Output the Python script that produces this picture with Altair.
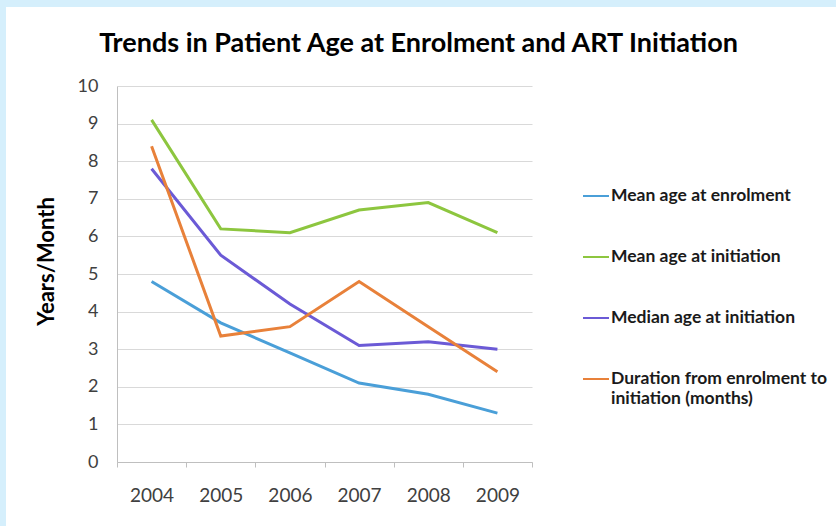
import altair as alt
import pandas as pd

# Years on the category axis
years = ["2004", "2005", "2006", "2007", "2008", "2009"]

# Series names, in legend order
series_names = [
    "Mean age at enrolment",
    "Mean age at initiation",
    "Median age at initiation",
    "Duration from enrolment to initiation (months)",
]

# Values per year (years for ages, months for duration)
mean_age_enrolment = [4.8, 3.7, 2.9, 2.1, 1.8, 1.3]
mean_age_initiation = [9.1, 6.2, 6.1, 6.7, 6.9, 6.1]
median_age_initiation = [7.8, 5.5, 4.2, 3.1, 3.2, 3.0]
duration_months = [8.4, 3.35, 3.6, 4.8, 3.6, 2.4]

series_colors = ["#4A9FD8", "#8DC63F", "#6B5AD6", "#E8813A"]

FONT = "Lato"
EDGE = "#D5EFFC"

rows = []
for name, values in zip(
    series_names,
    [mean_age_enrolment, mean_age_initiation, median_age_initiation, duration_months],
):
    for year, v in zip(years, values):
        rows.append({"Year": year, "Series": name, "Value": v})
df = pd.DataFrame(rows)

# Light-blue page edge along the top and left sides
one = pd.DataFrame({"k": [0]})
top_edge = alt.Chart(one).mark_rect(color=EDGE).encode(
    x=alt.value(-117), x2=alt.value(719), y=alt.value(-86), y2=alt.value(-79)
)
left_edge = alt.Chart(one).mark_rect(color=EDGE).encode(
    x=alt.value(-117), x2=alt.value(-111), y=alt.value(-86), y2=alt.value(440)
)

lines = alt.Chart(df).mark_line(strokeWidth=3).encode(
    x=alt.X(
        "Year:N",
        sort=years,
        title=None,
        scale=alt.Scale(paddingInner=0, paddingOuter=0),
        axis=alt.Axis(
            labelAngle=0,
            labelFont=FONT,
            labelFontSize=19,
            labelColor="#404040",
            labelPadding=19,
            tickBand="extent",
            tickSize=5,
            tickColor="#BFBFBF",
            domainColor="#BFBFBF",
            grid=False,
        ),
    ),
    y=alt.Y(
        "Value:Q",
        title="Years/Month",
        scale=alt.Scale(domain=[0, 10], nice=False),
        axis=alt.Axis(
            values=list(range(0, 11)),
            labelFont=FONT,
            labelFontSize=18,
            labelColor="#404040",
            labelPadding=19,
            ticks=False,
            domainColor="#BFBFBF",
            gridColor="#D9D9D9",
            titleFont=FONT,
            titleFontSize=22,
            titleFontWeight="bold",
            titleColor="#000000",
            titleX=-71,
            titleY=175,
            titleBaseline="middle",
        ),
    ),
    color=alt.Color(
        "Series:N",
        sort=series_names,
        scale=alt.Scale(domain=series_names, range=series_colors),
        legend=alt.Legend(
            title=None,
            orient="none",
            legendX=465,
            legendY=96,
            symbolType="stroke",
            symbolSize=676,
            symbolStrokeWidth=2,
            labelFont=FONT,
            labelFontSize=17.5,
            labelFontWeight="bold",
            labelColor="#1A1A1A",
            labelOffset=1,
            labelLimit=300,
            rowPadding=38,
            labelExpr="datum.label == 'Duration from enrolment to initiation (months)' ? ['Duration from enrolment to', 'initiation (months)'] : datum.label",
        ),
    ),
)

chart = (
    alt.layer(top_edge, left_edge, lines)
    .properties(
        width=415,
        height=376,
        autosize=alt.AutoSizeParams(type="none"),
        padding={"left": 117, "top": 86, "right": 304, "bottom": 64},
        background="white",
        title=alt.TitleParams(
            "Trends in Patient Age at Enrolment and ART Initiation",
            font=FONT,
            fontSize=27,
            fontWeight="bold",
            color="#000000",
            anchor="middle",
            frame="group",
            dx=94,
            dy=58,
            offset=0,
        ),
    )
    .configure_view(stroke=None)
)

chart.save("out.html", embed_options={"renderer": "svg", "actions": False})
